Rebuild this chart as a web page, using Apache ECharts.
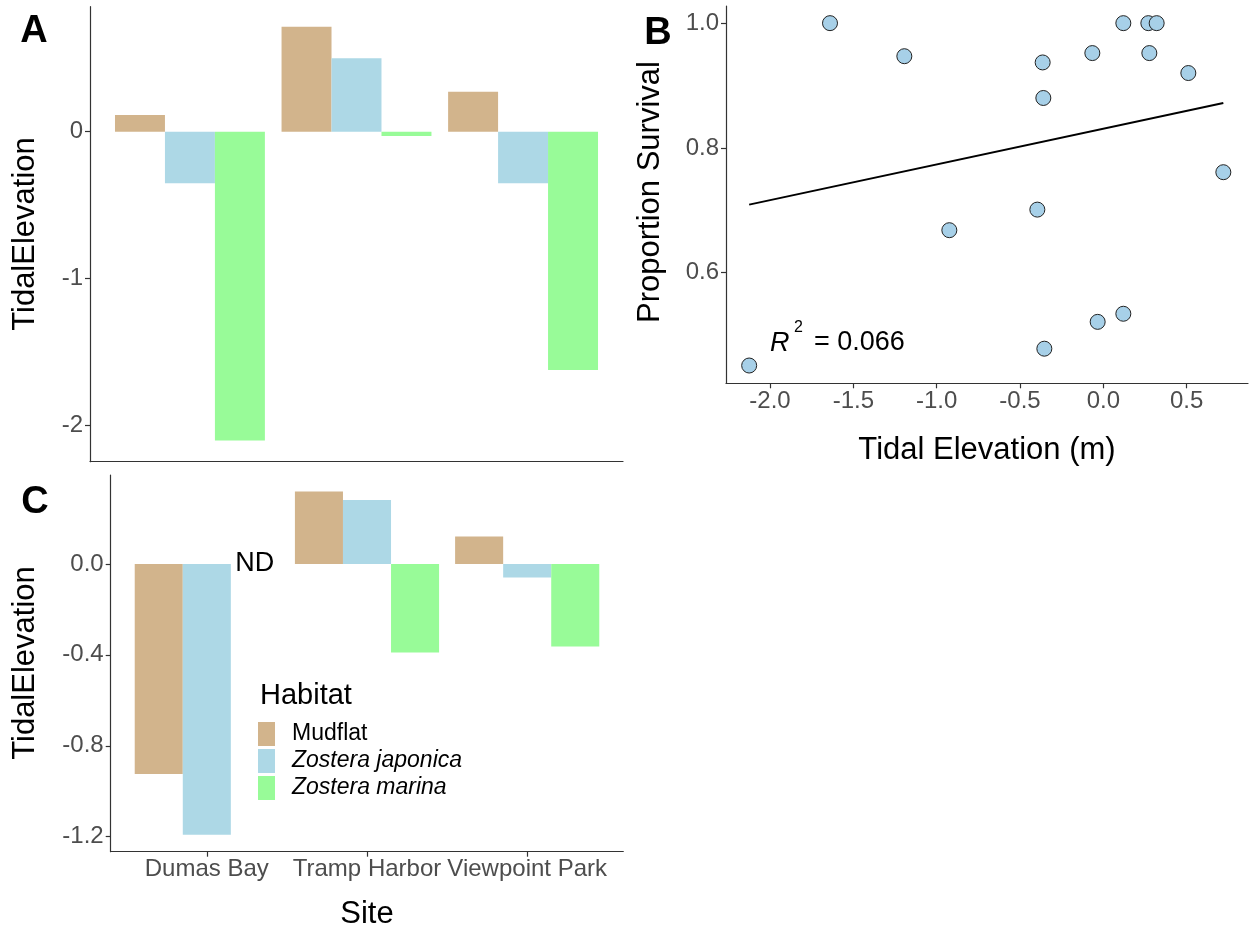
<!DOCTYPE html>
<html><head><meta charset="utf-8">
<script src="https://cdn.jsdelivr.net/npm/echarts@6/dist/echarts.min.js"></script>
<style>html,body{margin:0;padding:0;background:#fff}#c{width:1249px;height:930px}</style>
</head><body><div id="c"></div>
<script>
// ---------- data ----------
const sites = ['Dumas Bay', 'Tramp Harbor', 'Viewpoint Park'];
const habitats = ['Mudflat', 'Zostera japonica', 'Zostera marina'];

// Panel A: tidal elevation by site and habitat
const mudflatA = [0.114, 0.716, 0.273];
const japonicaA = [-0.352, 0.500, -0.352];
const marinaA = [-2.106, -0.029, -1.624];

// Panel C: tidal elevation by site and habitat (null = no data, "ND")
const mudflatC = [-0.924, 0.318, 0.120];
const japonicaC = [-1.191, 0.281, -0.060];
const marinaC = [null, -0.390, -0.363];

// Panel B: proportion survival vs tidal elevation
const elevB = [-2.125, -1.64, -1.194, -0.924, -0.396, -0.364, -0.36, -0.354, -0.066, -0.034, 0.12, 0.12, 0.27, 0.276, 0.32, 0.51, 0.72];
const survB = [0.451, 1.0, 0.947, 0.668, 0.701, 0.937, 0.88, 0.478, 0.952, 0.521, 1.0, 0.534, 1.0, 0.952, 1.0, 0.92, 0.761];
const fitX = [-2.125, 0.72];
const fitY = [0.709, 0.872];
const r2Text = '= 0.066';

// tick labels
const ticksA = [-2, -1, 0];
const ticksBx = [-2.0, -1.5, -1.0, -0.5, 0.0, 0.5];
const ticksBy = [0.6, 0.8, 1.0];
const ticksC = [-1.2, -0.8, -0.4, 0.0];

// ---------- style ----------
const FONT = '"Liberation Sans", Arial, Helvetica, sans-serif';
const AXIS = '#333333';
const LAB = '#4d4d4d';
const colors = ['#D2B48C', '#ADD8E6', '#98FB98'];

const chart = echarts.init(document.getElementById('c'));

const lineStyle = { color: AXIS, width: 1.2 };
function valueAxisLabel(fmt) {
  return { show: true, color: LAB, fontSize: 24, fontFamily: FONT, margin: 7, formatter: fmt };
}
function hiddenAxis(grid) {
  return { type: 'value', gridIndex: grid, show: false, min: 0, max: 1 };
}
function frameX(grid) {
  return { type: 'value', gridIndex: grid, min: 0, max: 1,
    axisLine: { show: true, onZero: false, lineStyle: lineStyle }, axisTick: { show: false },
    axisLabel: { show: false }, splitLine: { show: false } };
}

// geometry of panels (ggplot-style discrete expansion 0.6 band each side)
const A = { left: 90, top: 6.7, width: 533, height: 455 };
const bandA = A.width / 3.2;
const C = { left: 110.7, top: 475, width: 512.6, height: 376.7 };
const bandC = C.width / 3.2;
const B = { left: 726, top: 6, width: 522, height: 377.3 };

function barSeries(name, values, color, xi, yi) {
  return {
    type: 'bar', name: name, xAxisIndex: xi, yAxisIndex: yi,
    barGap: '0%', barCategoryGap: '10%',
    itemStyle: { color: color },
    data: values.map(v => v === null
      ? { value: 0, label: { show: true, position: 'inside', formatter: 'ND', color: '#000', fontSize: 27, fontFamily: FONT } }
      : v)
  };
}

const titleFont = '31px ' + FONT;
function txt(x, y, text, font, align, rot) {
  return { type: 'text', x: x, y: y, rotation: rot || 0,
    style: { text: text, font: font, fill: '#000', align: align, verticalAlign: 'middle', textAlign: align, textVerticalAlign: 'middle' } };
}

const option = {
  animation: false,
  backgroundColor: '#ffffff',
  grid: [
    { left: A.left, top: A.top, width: A.width, height: A.height, outerBoundsMode: 'none' },
    { left: A.left + 0.1 * bandA, top: A.top, width: A.width - 0.2 * bandA, height: A.height, outerBoundsMode: 'none' },
    { left: B.left, top: B.top, width: B.width, height: B.height, outerBoundsMode: 'none' },
    { left: C.left, top: C.top, width: C.width, height: C.height, outerBoundsMode: 'none' },
    { left: C.left + 0.1 * bandC, top: C.top, width: C.width - 0.2 * bandC, height: C.height, outerBoundsMode: 'none' }
  ],
  xAxis: [
    frameX(0),
    { type: 'category', gridIndex: 1, data: sites, axisLine: { show: false, onZero: false }, axisTick: { show: false }, axisLabel: { show: false } },
    { type: 'value', gridIndex: 2, min: -2.264, max: 0.868,
      axisLine: { show: true, onZero: false, lineStyle: lineStyle },
      axisTick: { show: true, length: 5, lineStyle: lineStyle, customValues: ticksBx },
      axisLabel: Object.assign(valueAxisLabel(v => v.toFixed(1)), { customValues: ticksBx, margin: 6 }),
      splitLine: { show: false } },
    frameX(3),
    { type: 'category', gridIndex: 4, data: sites, position: 'bottom', axisLine: { show: false, onZero: false },
      axisTick: { show: true, alignWithLabel: true, length: 5, lineStyle: lineStyle },
      axisLabel: { show: true, color: LAB, fontSize: 24, fontFamily: FONT, margin: 6, interval: 0 } }
  ],
  yAxis: [
    hiddenAxis(0),
    { type: 'value', gridIndex: 1, min: -2.25, max: 0.852, offset: 0.1 * bandA,
      axisLine: { show: true, onZero: false, lineStyle: lineStyle },
      axisTick: { show: true, length: 5, lineStyle: lineStyle, customValues: ticksA },
      axisLabel: Object.assign(valueAxisLabel(v => String(Math.round(v))), { customValues: ticksA }),
      splitLine: { show: false } },
    { type: 'value', gridIndex: 2, min: 0.4225, max: 1.0275,
      axisLine: { show: true, onZero: false, lineStyle: lineStyle },
      axisTick: { show: true, length: 5, lineStyle: lineStyle, customValues: ticksBy },
      axisLabel: Object.assign(valueAxisLabel(v => v.toFixed(1)), { customValues: ticksBy }),
      splitLine: { show: false } },
    hiddenAxis(3),
    { type: 'value', gridIndex: 4, min: -1.266, max: 0.391, offset: 0.1 * bandC,
      axisLine: { show: true, onZero: false, lineStyle: lineStyle },
      axisTick: { show: true, length: 5, lineStyle: lineStyle, customValues: ticksC },
      axisLabel: Object.assign(valueAxisLabel(v => v.toFixed(1)), { customValues: ticksC }),
      splitLine: { show: false } }
  ],
  legend: {
    data: habitats, orient: 'vertical', left: 258, top: 722, padding: 0,
    itemWidth: 17, itemHeight: 24, itemGap: 3, icon: 'rect', selectedMode: false,
    formatter: n => n === 'Mudflat' ? '{n|' + n + '}' : '{i|' + n + '}',
    textStyle: {
      fontSize: 23, fontFamily: FONT, color: '#000',
      rich: {
        n: { fontSize: 23, fontFamily: FONT, color: '#000', padding: [0, 0, 0, 12] },
        i: { fontSize: 23, fontFamily: FONT, color: '#000', fontStyle: 'italic', padding: [0, 0, 0, 12] }
      }
    }
  },
  series: [
    barSeries(habitats[0], mudflatA, colors[0], 1, 1),
    barSeries(habitats[1], japonicaA, colors[1], 1, 1),
    barSeries(habitats[2], marinaA, colors[2], 1, 1),
    barSeries(habitats[0], mudflatC, colors[0], 4, 4),
    barSeries(habitats[1], japonicaC, colors[1], 4, 4),
    barSeries(habitats[2], marinaC, colors[2], 4, 4),
    { type: 'line', xAxisIndex: 2, yAxisIndex: 2, symbol: 'none', silent: true,
      lineStyle: { color: '#000', width: 2 }, data: fitX.map((x, i) => [x, fitY[i]]) },
    { type: 'scatter', xAxisIndex: 2, yAxisIndex: 2, symbolSize: 15,
      itemStyle: { color: '#a7d0e8', borderColor: '#222', borderWidth: 1, opacity: 1 },
      data: elevB.map((x, i) => [x, survB[i]]) }
  ],
  graphic: [
    txt(34, 32, 'A', 'bold 38px ' + FONT, 'center'),
    txt(658, 34, 'B', 'bold 38px ' + FONT, 'center'),
    txt(35, 503, 'C', 'bold 38px ' + FONT, 'center'),
    txt(25, 234, 'TidalElevation', titleFont, 'center', Math.PI / 2),
    txt(25, 663, 'TidalElevation', titleFont, 'center', Math.PI / 2),
    txt(650, 192, 'Proportion Survival', titleFont, 'center', Math.PI / 2),
    txt(987, 450, 'Tidal Elevation (m)', titleFont, 'center'),
    txt(367, 914, 'Site', titleFont, 'center'),
    txt(260, 696, 'Habitat', '29px ' + FONT, 'left'),
    txt(770, 343, 'R', 'italic 27px ' + FONT, 'left'),
    txt(794, 328, '2', '16px ' + FONT, 'left'),
    txt(814, 343, r2Text, '27px ' + FONT, 'left')
  ]
};
chart.setOption(option);
</script></body></html>
